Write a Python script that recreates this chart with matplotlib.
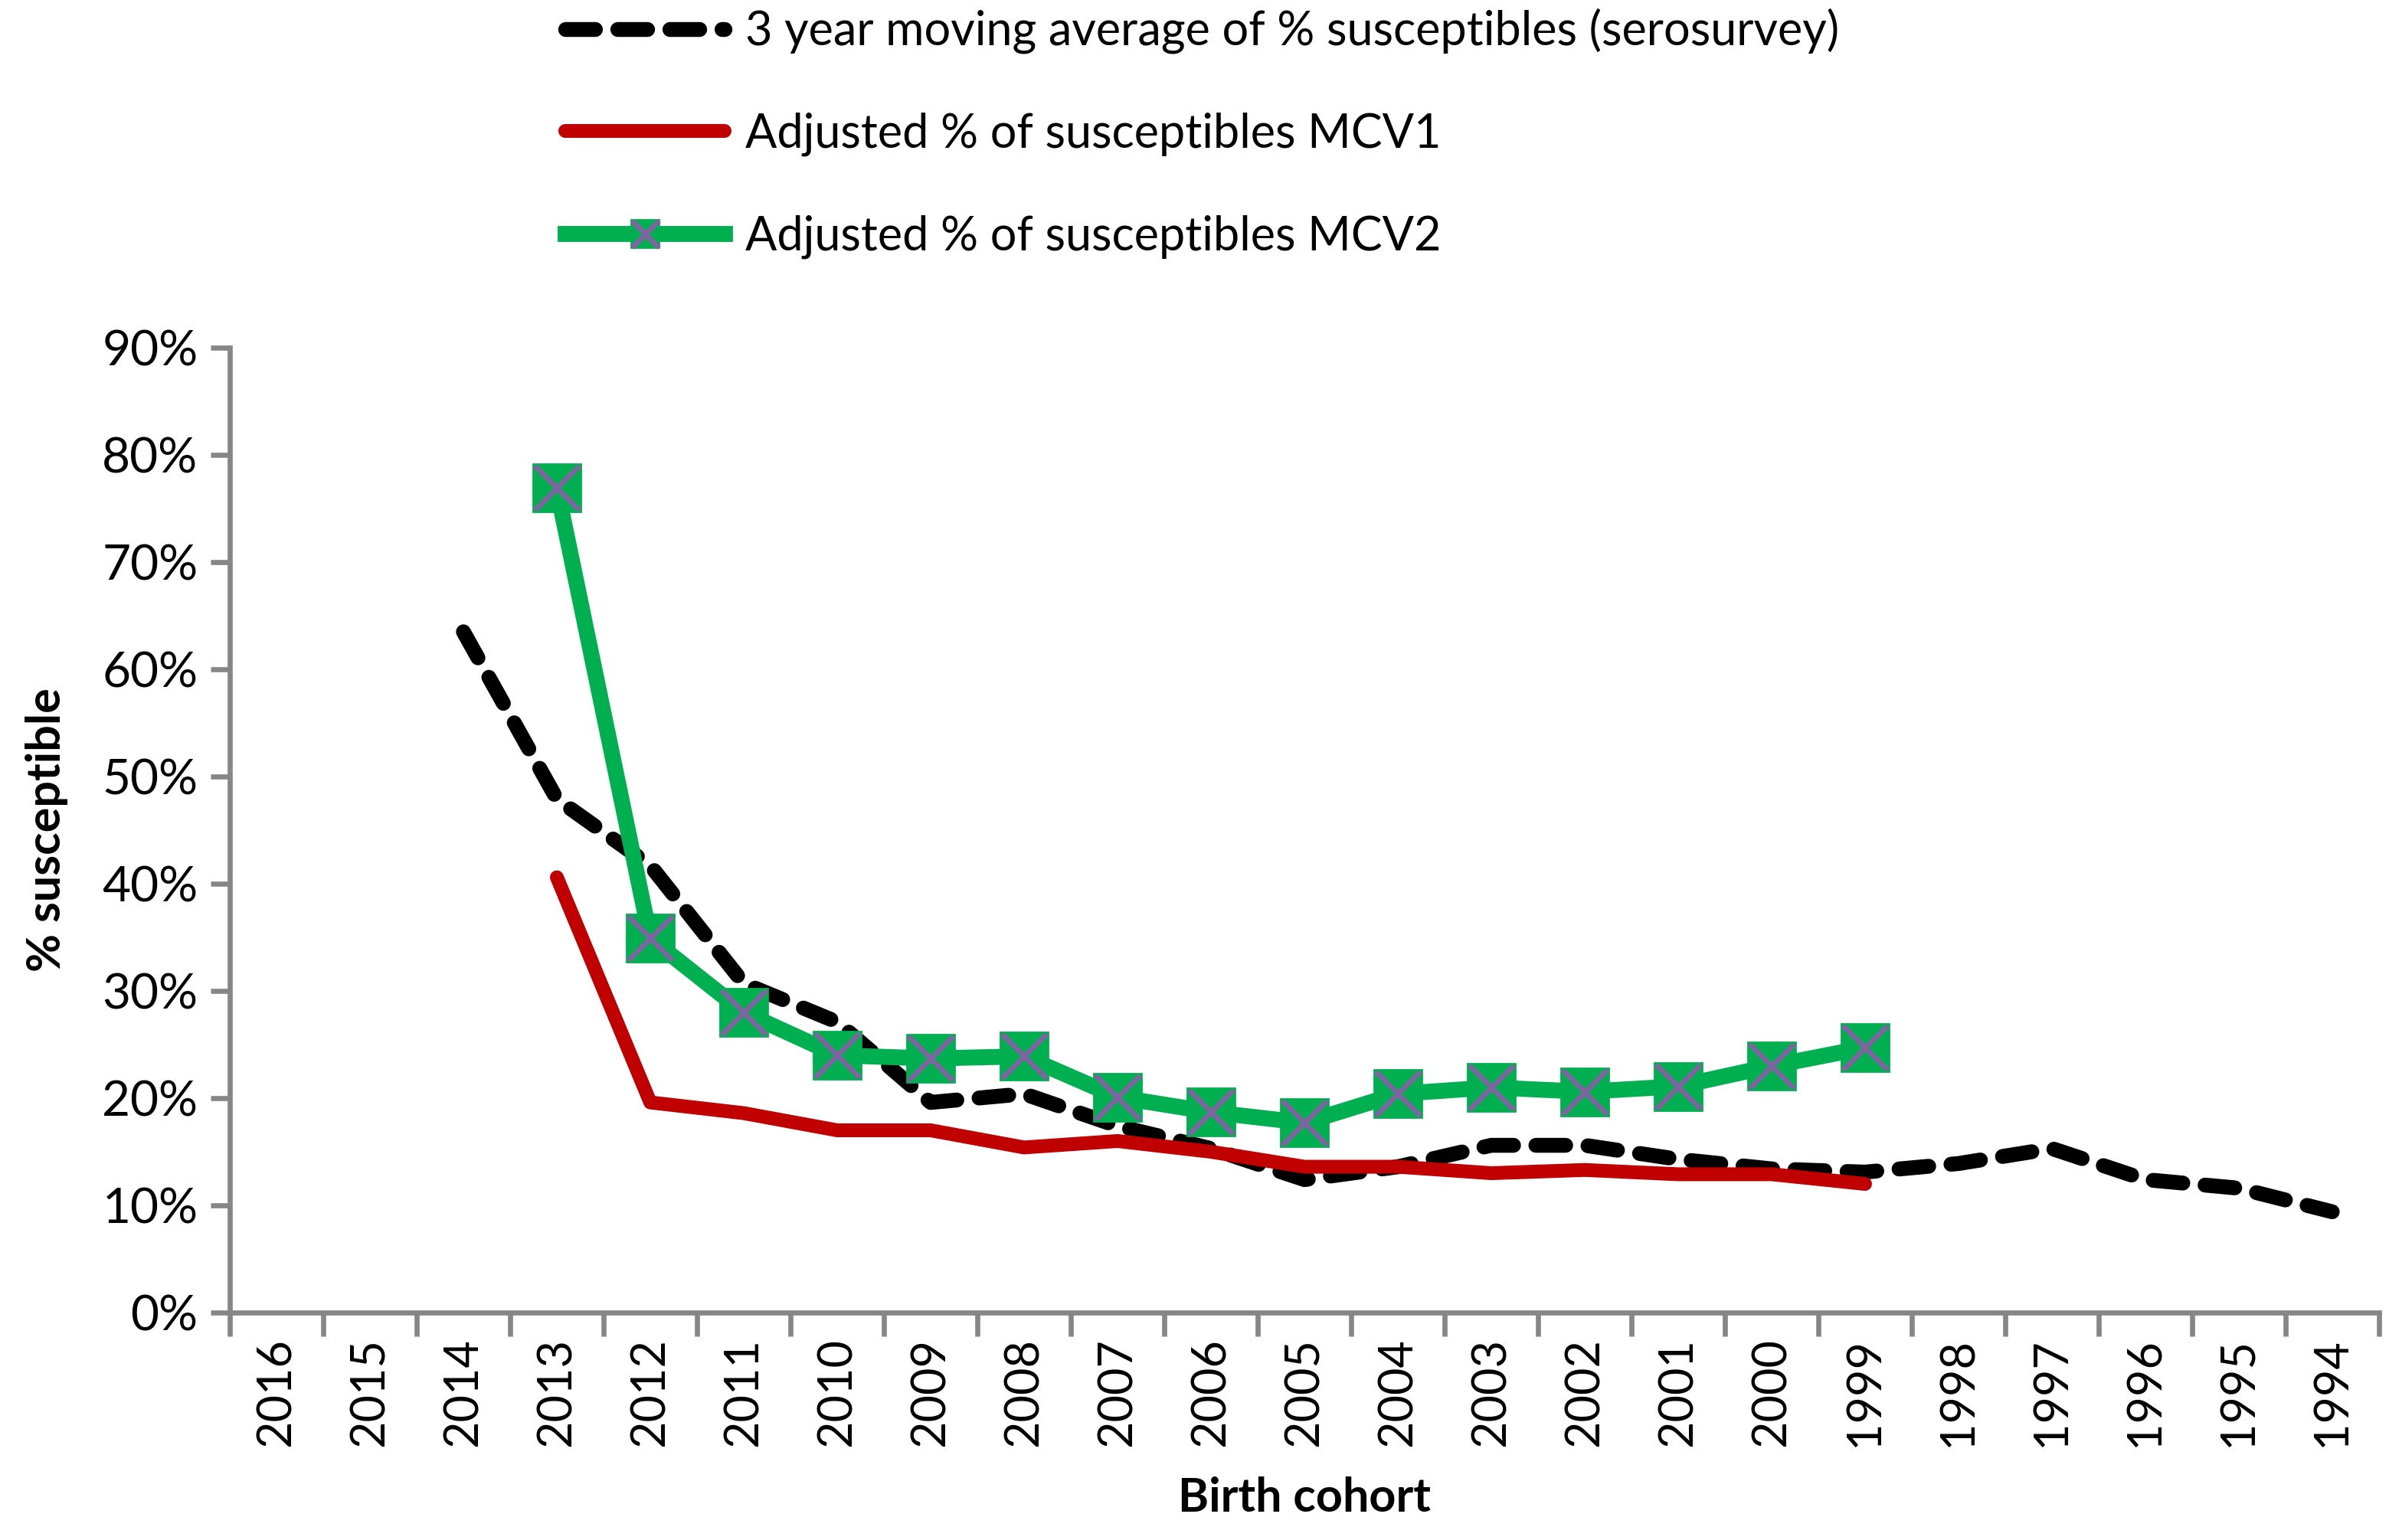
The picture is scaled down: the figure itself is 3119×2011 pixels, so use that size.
import numpy as np
import matplotlib.pyplot as plt
from matplotlib.legend_handler import HandlerTuple

nan = np.nan

cohorts = [str(y) for y in range(2016, 1993, -1)]

serosurvey = [nan, nan, 63.5, 47.9, 41.7, 30.7, 27.1, 19.6, 20.4, 17.4, 15.3, 12.4,
              13.6, 15.6, 15.6, 14.3, 13.4, 13.1, 13.9, 15.3, 12.4, 11.6, 9.4]
mcv1 = [nan, nan, nan, 40.6, 19.6, 18.6, 17.0, 17.0, 15.4, 16.0, 15.0, 13.6,
        13.6, 13.0, 13.3, 12.9, 12.9, 12.0, nan, nan, nan, nan, nan]
mcv2 = [nan, nan, nan, 76.9, 34.9, 28.0, 24.0, 23.7, 23.9, 20.1, 18.7, 17.7,
        20.4, 21.0, 20.6, 21.1, 23.0, 24.7, nan, nan, nan, nan, nan]

labels = ["3 year moving average of % susceptibles (serosurvey)",
          "Adjusted % of susceptibles MCV1",
          "Adjusted % of susceptibles MCV2"]

plt.rcParams['font.family'] = ['Lato', 'DejaVu Sans']

fig = plt.figure(figsize=(3119 / 200, 2011 / 200), dpi=200)
ax = fig.add_axes([0.0962, 0.1477, 0.8996, 0.6265])

x = np.arange(len(cohorts))
to_frac = lambda v: np.array(v) / 100.0

l_sero, = ax.plot(x, to_frac(serosurvey), color="black", lw=7,
                  linestyle=(0, (2.0, 1.5)), dash_capstyle="round",
                  solid_joinstyle="round", zorder=3)
l_mcv1, = ax.plot(x, to_frac(mcv1), color="#C00000", lw=6.5,
                  solid_capstyle="round", solid_joinstyle="round", zorder=4)
l_mcv2, = ax.plot(x, to_frac(mcv2), color="#00B050", lw=7.5,
                  marker="s", markersize=22, markerfacecolor="#00B050",
                  markeredgecolor="#00B050", solid_joinstyle="round", zorder=5)
l_x, = ax.plot(x, to_frac(mcv2), linestyle="none", marker="x", markersize=21,
               markeredgewidth=2.4, color="#8064A2", zorder=6)

ax.set_xlim(-0.5, len(cohorts) - 0.5)
ax.set_ylim(0, 0.9)
ax.set_yticks(np.arange(0, 0.91, 0.1))
ax.set_yticklabels([f"{int(round(v * 100))}%" for v in np.arange(0, 0.91, 0.1)],
                   fontsize=23)

ax.set_xticks(np.arange(-0.5, len(cohorts), 1.0))
ax.set_xticklabels([])
ax.set_xticks(x, minor=True)
ax.set_xticklabels(cohorts, minor=True, rotation=90, fontsize=22)
ax.tick_params(axis="x", which="minor", length=0, pad=12)
ax.tick_params(axis="x", which="major", length=11, width=2.4,
               color="#868686", direction="out")
ax.tick_params(axis="y", length=9, width=2.4, color="#868686", pad=6)

for side in ("top", "right"):
    ax.spines[side].set_visible(False)
for side in ("left", "bottom"):
    ax.spines[side].set_color("#868686")
    ax.spines[side].set_linewidth(2.4)

ax.set_xlabel("Birth cohort", fontsize=22, fontweight="bold", labelpad=14)
ax.set_ylabel("% susceptible", fontsize=22, fontweight="bold", labelpad=16)

fig.legend([l_sero, l_mcv1, (l_mcv2, l_x)], labels,
           handler_map={tuple: HandlerTuple(ndivide=1)},
           loc="upper left", bbox_to_anchor=(0.219, 1.022), frameon=False,
           fontsize=22, handlelength=3.4, handletextpad=0.45,
           labelspacing=1.25, markerscale=0.6)

fig.savefig("out.png", dpi=200)
